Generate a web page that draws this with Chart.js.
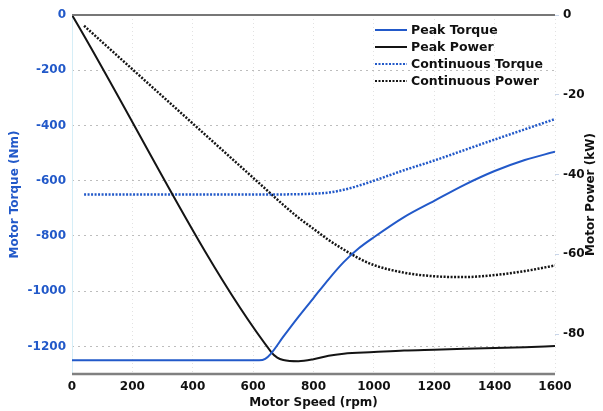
<!DOCTYPE html>
<html>
<head>
<meta charset="utf-8">
<script src="https://cdn.jsdelivr.net/npm/chart.js@4.4.1/dist/chart.umd.min.js"></script>
<style>
  html, body { margin: 0; padding: 0; background: #fff; }
  #wrap { width: 603px; height: 411px; position: relative; }
</style>
</head>
<body>
<div id="wrap"><canvas id="motorChart"></canvas></div>
<script>
// values
const speedTicks = [0, 200, 400, 600, 800, 1000, 1200, 1400, 1600];
const torqueTicks = [0, -200, -400, -600, -800, -1000, -1200];
const powerTicks = [0, -20, -40, -60, -80];

const peakTorqueRpm = [0, 620, 640, 660, 700, 750, 800, 850, 900, 950, 1000, 1100, 1200, 1300, 1400, 1500, 1600];
const peakTorqueNm = [-1250, -1250, -1245, -1225, -1165, -1093, -1025, -957, -895, -845, -805, -732, -673, -615, -565, -525, -495];

const peakPowerRpm = [0, 660, 680, 700, 750, 800, 850, 900, 1000, 1100, 1200, 1300, 1400, 1500, 1600];
const peakPowerKw = [0, -84.5, -85.9, -86.5, -86.8, -86.3, -85.4, -84.9, -84.5, -84.1, -83.9, -83.7, -83.5, -83.3, -83.0];

const contTorqueRpm = [40, 200, 400, 600, 750, 800, 850, 900, 950, 1000, 1100, 1200, 1300, 1400, 1500, 1600];
const contTorqueNm = [-650, -650, -650, -650, -649, -647, -643, -633, -618, -600, -562, -527, -489, -451, -414, -377];

const contPowerRpm = [40, 200, 400, 600, 700, 750, 800, 850, 900, 950, 1000, 1100, 1200, 1300, 1400, 1500, 1600];
const contPowerKw = [-2.7, -13.6, -27.2, -40.8, -47.6, -50.8, -53.6, -56.4, -58.8, -61, -62.7, -64.6, -65.5, -65.7, -65.2, -64.2, -62.8];

const BLUE = '#2259c9';
const BLACK = '#141414';
const FONT = 'DejaVu Sans';

function pts(xs, ys) {
  return xs.map((x, i) => ({ x: x, y: ys[i] }));
}
const plain = v => String(v);

Chart.defaults.font.family = FONT;
Chart.defaults.font.weight = 'bold';
Chart.defaults.font.size = 12;
Chart.defaults.color = '#111';

// legend drawn inside the plot, top right
const innerLegend = {
  id: 'innerLegend',
  afterDraw(chart) {
    const ctx = chart.ctx;
    const x0 = 375, x1 = 407, tx = 411;
    const rows = [30, 47, 64, 81];
    ctx.save();
    chart.data.datasets.forEach((ds, i) => {
      const y = rows[i];
      ctx.beginPath();
      ctx.strokeStyle = ds.borderColor;
      ctx.lineWidth = 2;
      ctx.setLineDash(ds.borderDash || []);
      ctx.moveTo(x0, y);
      ctx.lineTo(x1, y);
      ctx.stroke();
      ctx.setLineDash([]);
      ctx.fillStyle = '#111';
      ctx.font = 'bold 12.5px "' + FONT + '"';
      ctx.textAlign = 'left';
      ctx.textBaseline = 'middle';
      ctx.fillText(ds.label, tx, y + 1);
    });
    ctx.restore();
  }
};

// frame lines and right axis title (reads bottom to top)
const frame = {
  id: 'frame',
  beforeDatasetsDraw(chart) {
    const a = chart.chartArea;
    const ctx = chart.ctx;
    ctx.save();
    ctx.beginPath();
    ctx.strokeStyle = '#d6eef7';
    ctx.lineWidth = 1;
    ctx.moveTo(a.left + 0.5, a.top);
    ctx.lineTo(a.left + 0.5, a.bottom);
    ctx.stroke();
    ctx.restore();
  },
  afterDatasetsDraw(chart) {
    const a = chart.chartArea;
    const ctx = chart.ctx;
    ctx.save();
    ctx.beginPath();
    ctx.strokeStyle = '#777';
    ctx.lineWidth = 2;
    ctx.moveTo(a.left, a.top);
    ctx.lineTo(a.right, a.top);
    ctx.stroke();
    ctx.beginPath();
    ctx.strokeStyle = '#808080';
    ctx.lineWidth = 2.5;
    ctx.moveTo(a.left, a.bottom);
    ctx.lineTo(a.right, a.bottom);
    ctx.stroke();
    ctx.translate(591, (a.top + a.bottom) / 2);
    ctx.rotate(-Math.PI / 2);
    ctx.fillStyle = '#111';
    ctx.font = 'bold 12px "' + FONT + '"';
    ctx.textAlign = 'center';
    ctx.textBaseline = 'middle';
    ctx.fillText('Motor Power (kW)', 0, 0);
    ctx.restore();
  }
};

new Chart(document.getElementById('motorChart'), {
  type: 'line',
  data: {
    datasets: [{
      label: 'Peak Torque',
      data: pts(peakTorqueRpm, peakTorqueNm),
      yAxisID: 'torque',
      borderColor: BLUE,
      borderWidth: 2,
      cubicInterpolationMode: 'monotone'
    }, {
      label: 'Peak Power',
      data: pts(peakPowerRpm, peakPowerKw),
      yAxisID: 'power',
      borderColor: BLACK,
      borderWidth: 2,
      cubicInterpolationMode: 'monotone'
    }, {
      label: 'Continuous Torque',
      data: pts(contTorqueRpm, contTorqueNm),
      yAxisID: 'torque',
      borderColor: BLUE,
      borderWidth: 2.5,
      borderDash: [2, 1.5],
      cubicInterpolationMode: 'monotone'
    }, {
      label: 'Continuous Power',
      data: pts(contPowerRpm, contPowerKw),
      yAxisID: 'power',
      borderColor: BLACK,
      borderWidth: 2.5,
      borderDash: [2, 1.5],
      cubicInterpolationMode: 'monotone'
    }]
  },
  options: {
    responsive: true,
    maintainAspectRatio: false,
    animation: false,
    layout: { padding: { top: 15, left: 0, right: 0, bottom: 0 } },
    elements: { point: { radius: 0 } },
    plugins: {
      legend: { display: false },
      tooltip: { enabled: false }
    },
    scales: {
      x: {
        type: 'linear',
        min: 0,
        max: 1600,
        afterFit: s => { s.height = 37; },
        afterBuildTicks: s => { s.ticks = speedTicks.map(v => ({ value: v })); },
        grid: { color: '#e2e2e2', drawTicks: false },
        border: { display: false, dash: [1, 3] },
        ticks: { padding: 6, color: '#111', callback: plain, font: { size: 12, weight: 'bold' } },
        title: {
          display: true,
          text: 'Motor Speed (rpm)',
          color: '#111',
          font: { size: 12, weight: 'bold' },
          padding: { top: 1, bottom: 1 }
        }
      },
      torque: {
        type: 'linear',
        position: 'left',
        min: -1300,
        max: 0,
        afterFit: s => { s.width = 72; },
        afterBuildTicks: s => { s.ticks = torqueTicks.map(v => ({ value: v })); },
        grid: {
          color: ctx => (ctx.tick && ctx.tick.value === 0) ? 'rgba(0,0,0,0)' : '#bdbdbd',
          drawTicks: false
        },
        border: { display: false, dash: [2, 4] },
        ticks: { padding: 6, color: BLUE, callback: plain, font: { size: 12, weight: 'bold' } },
        title: {
          display: true,
          text: 'Motor Torque (Nm)',
          color: BLUE,
          font: { size: 12, weight: 'bold' },
          padding: { top: 8, bottom: 0 }
        }
      },
      power: {
        type: 'linear',
        position: 'right',
        min: -90,
        max: 0,
        afterFit: s => { s.width = 48; },
        afterBuildTicks: s => { s.ticks = powerTicks.map(v => ({ value: v })); },
        grid: { drawOnChartArea: false, drawTicks: true, tickLength: 4, color: '#c9d6ea' },
        border: { display: false },
        ticks: { padding: 4, color: '#111', callback: plain, font: { size: 12, weight: 'bold' } },
        title: { display: false }
      }
    }
  },
  plugins: [innerLegend, frame]
});
</script>
</body>
</html>
